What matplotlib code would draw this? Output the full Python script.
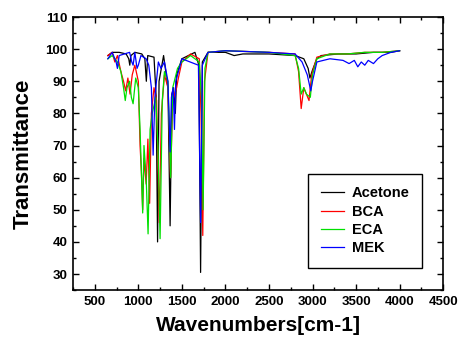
import matplotlib
matplotlib.use('Agg')
import matplotlib.pyplot as plt
from matplotlib.ticker import MultipleLocator

plt.rcParams['font.family'] = ['Liberation Sans', 'DejaVu Sans']

# spectra: wavenumber [cm-1], transmittance
acetone_wn = [650, 700, 780, 860, 890, 902, 915, 960, 1040, 1075, 1092, 1108, 1180, 1205, 1221,
              1238, 1290, 1340, 1365, 1385, 1405, 1425, 1440, 1500, 1650, 1695, 1715, 1735,
              1800, 2000, 2100, 2200, 2500, 2800, 2900, 2950, 2970, 3000, 3050, 3100, 3300,
              3500, 3700, 3900, 4000]
acetone_t = [98, 99, 99, 98.5, 97, 95, 98, 99, 98.5, 97, 90, 98, 97.5, 85, 40,
             90, 98, 88, 45, 86, 88, 80, 92, 97, 99, 95, 30.5, 96,
             99, 99, 98, 98.5, 98.5, 98, 97, 94, 91, 93.5, 97, 98, 98.5,
             98.5, 99, 99, 99.5]

bca_wn = [650, 700, 730, 760, 800, 830, 855, 880, 905, 930, 960, 1000, 1020, 1035, 1050,
          1065, 1090, 1110, 1130, 1150, 1180, 1210, 1240, 1265, 1300, 1340, 1370, 1395,
          1440, 1460, 1500, 1600, 1700, 1720, 1740, 1760, 1800, 2000, 2500, 2800, 2840,
          2870, 2900, 2930, 2960, 2990, 3050, 3200, 3400, 3600, 3800, 4000]
bca_t = [98, 99, 96, 98, 93, 90, 87, 91, 86, 92, 95, 90, 70, 62, 50,
         66, 58, 72, 52, 80, 88, 84, 46, 80, 92, 88, 60, 84,
         88, 91, 96, 98.5, 97, 80, 42, 90, 99, 99.5, 99, 98.5, 93,
         81.5, 88, 86, 84, 92, 97.5, 98.5, 98.5, 99, 99, 99.5]

eca_wn = [650, 700, 760, 800, 830, 850, 870, 900, 920, 940, 970, 1000, 1020, 1035, 1050,
          1065, 1090, 1112, 1135, 1160, 1200, 1225, 1250, 1275, 1300, 1340, 1372, 1395,
          1450, 1500, 1600, 1700, 1725, 1744, 1765, 1800, 2000, 2500, 2800, 2840, 2870,
          2900, 2930, 2975, 3000, 3050, 3200, 3400, 3600, 3800, 4000]
eca_t = [97, 98, 96, 93, 88, 84, 88, 90, 85, 83, 91, 88, 75, 62, 49,
         70, 60, 42.5, 75, 80, 85, 70, 41, 84, 93, 90, 60, 88,
         94, 96, 98, 96, 85, 50, 94, 99, 99.5, 99, 98, 94, 86,
         88, 86, 85, 92, 97, 98.5, 98.5, 99, 99, 99.5]

mek_wn = [650, 700, 745, 760, 780, 900, 925, 940, 960, 985, 1000, 1030, 1090, 1120, 1150,
          1170, 1190, 1230, 1260, 1300, 1340, 1365, 1380, 1400, 1415, 1430, 1460, 1500,
          1690, 1715, 1735, 1800, 2000, 2500, 2800, 2880, 2940, 2980, 3000, 3050, 3200,
          3350, 3420, 3480, 3520, 3560, 3600, 3640, 3700, 3750, 3800, 3900, 4000]
mek_t = [97, 99, 96, 94, 98, 99, 96, 95, 99, 94, 95, 98, 97, 95, 88,
         67, 85, 96, 94, 96, 90, 68, 85, 88, 75, 90, 93, 97,
         95, 46, 95, 99, 99.5, 99, 98.5, 96, 92, 87, 90, 96, 97,
         96.5, 95.5, 96.5, 94.5, 96, 95, 96.5, 95.5, 97, 98, 99, 99.5]

series = [('Acetone', acetone_wn, acetone_t, 'black'),
          ('BCA', bca_wn, bca_t, '#ff0000'),
          ('ECA', eca_wn, eca_t, '#00e000'),
          ('MEK', mek_wn, mek_t, '#0000ff')]

fig = plt.figure(figsize=(4.65, 3.47), dpi=100)
ax = fig.add_axes([0.157, 0.164, 0.796, 0.787])

for name, wn, t, c in series:
    ax.plot(wn, t, color=c, linewidth=0.9, label=name)

ax.set_xlim(250, 4500)
ax.set_ylim(25, 110)
ax.xaxis.set_major_locator(MultipleLocator(500))
ax.xaxis.set_minor_locator(MultipleLocator(250))
ax.yaxis.set_major_locator(MultipleLocator(10))
ax.yaxis.set_minor_locator(MultipleLocator(5))
ax.set_yticks(range(30, 111, 10))
ax.tick_params(which='both', direction='in', top=True, right=True,
               labeltop=False, labelright=False, width=1)
ax.tick_params(which='major', length=4, labelsize=9.5, pad=4)
ax.tick_params(which='minor', length=2)
for lab in ax.get_xticklabels() + ax.get_yticklabels():
    lab.set_fontweight('bold')
for s in ax.spines.values():
    s.set_linewidth(1.2)

ax.set_xlabel('Wavenumbers[cm-1]', fontsize=15, fontweight='bold', labelpad=6)
ax.set_ylabel('Transmittance', fontsize=16, fontweight='bold', labelpad=8)

leg = ax.legend(loc='lower right', bbox_to_anchor=(0.962, 0.055),
                prop={'weight': 'bold', 'size': 10.5}, fancybox=False, framealpha=1,
                edgecolor='black', handlelength=1.6, handletextpad=0.5,
                labelspacing=0.3, borderpad=0.85)
leg.get_frame().set_linewidth(1.0)

fig.savefig('out.png', dpi=100)
